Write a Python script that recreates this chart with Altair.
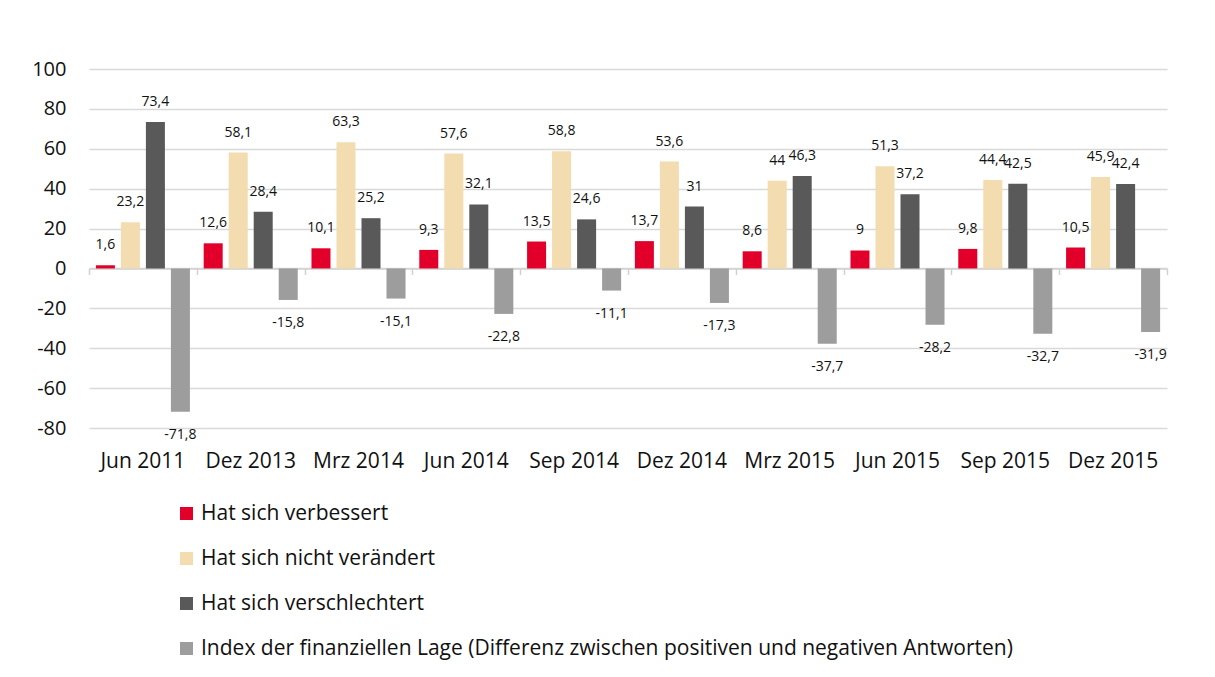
import altair as alt
import pandas as pd

categories = ["Jun 2011", "Dez 2013", "Mrz 2014", "Jun 2014", "Sep 2014",
              "Dez 2014", "Mrz 2015", "Jun 2015", "Sep 2015", "Dez 2015"]
series = ["Hat sich verbessert", "Hat sich nicht verändert", "Hat sich verschlechtert",
          "Index der finanziellen Lage (Differenz zwischen positiven und negativen Antworten)"]
verbessert = [1.6, 12.6, 10.1, 9.3, 13.5, 13.7, 8.6, 9, 9.8, 10.5]
unveraendert = [23.2, 58.1, 63.3, 57.6, 58.8, 53.6, 44, 51.3, 44.4, 45.9]
verschlechtert = [73.4, 28.4, 25.2, 32.1, 24.6, 31, 46.3, 37.2, 42.5, 42.4]
index_lage = [-71.8, -15.8, -15.1, -22.8, -11.1, -17.3, -37.7, -28.2, -32.7, -31.9]
y_ticks = [-80, -60, -40, -20, 0, 20, 40, 60, 80, 100]
colors = ["#e2002a", "#f2dcb0", "#595959", "#9d9d9d"]

rows = []
for i, c in enumerate(categories):
    for s, vals in zip(series, [verbessert, unveraendert, verschlechtert, index_lage]):
        v = vals[i]
        rows.append({"cat": c, "series": s, "value": v,
                     "label": f"{v:g}".replace(".", ",")})
df = pd.DataFrame(rows)

FONT = "Open Sans"
H = 359
W = 1078

xscale = alt.Scale(paddingInner=0, paddingOuter=0)
xoff = alt.XOffset("series:N", sort=series,
                   scale=alt.Scale(paddingInner=0.24, paddingOuter=0.275))
yenc = alt.Y("value:Q", scale=alt.Scale(domain=[-80, 100], nice=False),
             axis=alt.Axis(values=y_ticks, title=None, format="d",
                           labelFontSize=20, labelPadding=23, domain=False,
                           ticks=False, gridColor="#d9d9d9", gridWidth=1.5,
                           labelColor="#111111", labelFont=FONT,
                           labelExpr="replace(datum.label, '−', '-')"))

bars = alt.Chart(df).mark_bar().encode(
    x=alt.X("cat:N", sort=categories, scale=xscale,
            axis=alt.Axis(title=None, labelAngle=0, labelFontSize=21, labelPadding=22,
                          domain=False, ticks=False, grid=False,
                          labelColor="#111111", labelFont=FONT)),
    xOffset=xoff,
    y=yenc,
    color=alt.Color("series:N", sort=series,
                    scale=alt.Scale(domain=series, range=colors),
                    legend=alt.Legend(title=None, orient="none", legendX=87, legendY=434,
                                      direction="vertical", symbolType="square",
                                      symbolSize=169, symbolStrokeWidth=0,
                                      labelFontSize=21, labelFont=FONT,
                                      labelColor="#111111", labelOffset=4,
                                      rowPadding=23, labelLimit=1000)),
)

zero_axis = alt.Chart(df).mark_text(text="").encode(
    x=alt.X("cat:N", sort=categories, scale=xscale,
            axis=alt.Axis(title=None, orient="bottom", offset=-(H * 80 / 180),
                          labels=False, grid=False, domain=True,
                          domainColor="#d0d0d0", domainWidth=1.5,
                          ticks=True, tickBand="extent", tickSize=6,
                          tickColor="#d0d0d0", tickWidth=1.5)),
    y=yenc,
)

pos = alt.Chart(df).transform_filter("datum.value >= 0").mark_text(
    dy=-20, fontSize=14, font=FONT, color="#111111", baseline="middle").encode(
    x=alt.X("cat:N", sort=categories, scale=xscale, axis=None),
    xOffset=xoff,
    y=yenc,
    text="label:N",
)
neg = alt.Chart(df).transform_filter("datum.value < 0").mark_text(
    dy=23, fontSize=14, font=FONT, color="#111111", baseline="middle").encode(
    x=alt.X("cat:N", sort=categories, scale=xscale, axis=None),
    xOffset=xoff,
    y=yenc,
    text="label:N",
)

chart = alt.layer(bars, zero_axis, pos, neg).resolve_axis(x="independent").properties(
    width=W, height=H,
    autosize=alt.AutoSizeParams(type="none"),
    padding={"left": 81, "top": 61, "right": 40, "bottom": 240},
    background="white",
).configure_view(stroke=None)

chart.save("out.html", embed_options={"renderer": "svg", "actions": False})
